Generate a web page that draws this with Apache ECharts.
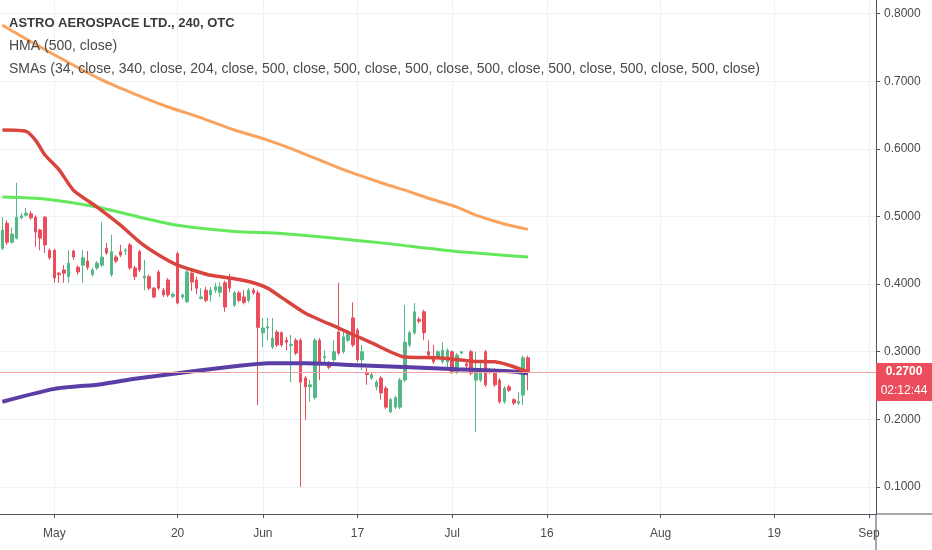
<!DOCTYPE html>
<html>
<head>
<meta charset="utf-8">
<title>ASTRO AEROSPACE LTD., 240, OTC</title>
<script src="https://cdn.jsdelivr.net/npm/echarts@6.0.0/dist/echarts.min.js"></script>
<style>
  html, body { margin: 0; padding: 0; background: #ffffff; }
  #main { width: 932px; height: 550px; }
</style>
</head>
<body>
<div id="main"></div>
<script>
// trading calendar (2 sessions of 240 min per day, weekends + holidays skipped)
var firstDay = '2019-04-23';
var lastDay = '2019-09-03';
var holidays = ['2019-05-27', '2019-07-04', '2019-09-02'];
var sessionTimes = ['09:30', '13:30'];
var dayTicks = {
  '2019-05-01': 'May', '2019-05-20': '20', '2019-06-03': 'Jun', '2019-06-17': '17',
  '2019-07-01': 'Jul', '2019-07-16': '16', '2019-08-01': 'Aug', '2019-08-19': '19',
  '2019-09-03': 'Sep'
};
var priceTicks = [0.1, 0.2, 0.3, 0.4, 0.5, 0.6, 0.7, 0.8];
var priceMin = 0.0599;
var priceMax = 0.8203;
var lastPrice = 0.27;
var countdown = '02:12:44';

// candles: [open, close, low, high]
var candles = [
  [0.453, 0.480, 0.450, 0.499], [0.490, 0.462, 0.458, 0.494], [0.462, 0.474, 0.460, 0.484],
  [0.468, 0.499, 0.466, 0.550], [0.498, 0.501, 0.496, 0.505], [0.502, 0.505, 0.500, 0.513],
  [0.504, 0.498, 0.495, 0.508], [0.499, 0.477, 0.455, 0.502], [0.480, 0.468, 0.450, 0.482],
  [0.499, 0.458, 0.446, 0.501], [0.450, 0.439, 0.436, 0.453], [0.450, 0.409, 0.402, 0.452],
  [0.416, 0.414, 0.402, 0.418], [0.421, 0.416, 0.402, 0.428], [0.411, 0.431, 0.402, 0.450],
  [0.449, 0.440, 0.436, 0.451], [0.425, 0.418, 0.414, 0.428], [0.428, 0.439, 0.402, 0.450],
  [0.434, 0.425, 0.421, 0.449], [0.414, 0.421, 0.411, 0.424], [0.424, 0.431, 0.421, 0.434],
  [0.428, 0.440, 0.425, 0.492], [0.453, 0.446, 0.443, 0.461], [0.414, 0.448, 0.411, 0.473],
  [0.440, 0.434, 0.431, 0.443], [0.448, 0.443, 0.440, 0.458], [0.449, 0.450, 0.443, 0.453],
  [0.458, 0.424, 0.421, 0.461], [0.424, 0.411, 0.406, 0.427], [0.448, 0.421, 0.418, 0.451],
  [0.409, 0.412, 0.391, 0.436], [0.411, 0.394, 0.391, 0.414], [0.394, 0.381, 0.379, 0.396],
  [0.418, 0.394, 0.391, 0.421], [0.391, 0.384, 0.381, 0.394], [0.406, 0.384, 0.381, 0.409],
  [0.382, 0.385, 0.379, 0.388], [0.445, 0.372, 0.370, 0.448], [0.381, 0.384, 0.378, 0.386],
  [0.374, 0.418, 0.372, 0.421], [0.416, 0.403, 0.390, 0.421], [0.406, 0.394, 0.385, 0.411],
  [0.379, 0.381, 0.377, 0.394], [0.391, 0.376, 0.373, 0.396], [0.384, 0.391, 0.374, 0.396],
  [0.391, 0.396, 0.387, 0.402], [0.388, 0.396, 0.381, 0.403], [0.402, 0.366, 0.359, 0.405],
  [0.410, 0.394, 0.388, 0.415], [0.369, 0.387, 0.366, 0.390], [0.387, 0.376, 0.373, 0.390],
  [0.381, 0.373, 0.370, 0.391], [0.376, 0.391, 0.373, 0.394], [0.391, 0.387, 0.384, 0.394],
  [0.387, 0.336, 0.221, 0.391], [0.328, 0.335, 0.307, 0.350], [0.335, 0.337, 0.317, 0.350],
  [0.307, 0.320, 0.304, 0.350], [0.329, 0.310, 0.307, 0.332], [0.328, 0.310, 0.307, 0.330],
  [0.317, 0.314, 0.302, 0.322], [0.309, 0.311, 0.255, 0.325], [0.317, 0.298, 0.295, 0.320],
  [0.317, 0.255, 0.100, 0.320], [0.261, 0.248, 0.199, 0.264], [0.248, 0.251, 0.226, 0.258],
  [0.232, 0.317, 0.229, 0.320], [0.317, 0.285, 0.258, 0.320], [0.291, 0.293, 0.285, 0.302],
  [0.283, 0.277, 0.274, 0.286], [0.288, 0.300, 0.285, 0.317], [0.329, 0.298, 0.295, 0.402],
  [0.300, 0.322, 0.297, 0.332], [0.317, 0.329, 0.314, 0.332], [0.350, 0.310, 0.307, 0.373],
  [0.332, 0.288, 0.285, 0.335], [0.288, 0.300, 0.273, 0.310], [0.268, 0.266, 0.251, 0.276],
  [0.261, 0.266, 0.258, 0.270], [0.248, 0.255, 0.243, 0.258], [0.261, 0.239, 0.229, 0.264],
  [0.246, 0.218, 0.215, 0.249], [0.211, 0.229, 0.209, 0.232], [0.218, 0.232, 0.215, 0.235],
  [0.218, 0.258, 0.215, 0.261], [0.258, 0.314, 0.255, 0.369], [0.310, 0.328, 0.307, 0.331],
  [0.328, 0.359, 0.325, 0.372], [0.348, 0.345, 0.342, 0.351], [0.359, 0.328, 0.317, 0.362],
  [0.300, 0.295, 0.292, 0.317], [0.291, 0.285, 0.282, 0.310], [0.292, 0.300, 0.289, 0.302],
  [0.285, 0.302, 0.282, 0.314], [0.285, 0.302, 0.276, 0.305], [0.300, 0.270, 0.267, 0.302],
  [0.270, 0.295, 0.267, 0.298], [0.298, 0.300, 0.296, 0.300], [0.282, 0.279, 0.276, 0.285],
  [0.300, 0.268, 0.265, 0.303], [0.258, 0.270, 0.181, 0.300], [0.258, 0.270, 0.255, 0.285],
  [0.300, 0.251, 0.248, 0.303], [0.273, 0.270, 0.267, 0.276], [0.273, 0.251, 0.248, 0.276],
  [0.258, 0.226, 0.223, 0.261], [0.226, 0.246, 0.223, 0.249], [0.248, 0.243, 0.240, 0.251],
  [0.229, 0.224, 0.221, 0.231], [0.224, 0.226, 0.221, 0.240], [0.236, 0.291, 0.221, 0.294],
  [0.291, 0.270, 0.243, 0.294]
];

// moving averages: [bar index, value]
var smaOrange = [[0, 0.783], [10, 0.743], [21, 0.702], [28, 0.681], [35, 0.662], [42, 0.646],
  [49, 0.628], [56, 0.613], [63, 0.595], [71, 0.572], [80, 0.550], [85, 0.539], [90, 0.527],
  [96, 0.514], [100, 0.502], [106, 0.489], [111, 0.481]];
var smaGreen = [[0, 0.529], [9, 0.526], [20, 0.514], [29, 0.499], [37, 0.487], [49, 0.478],
  [59, 0.475], [80, 0.461], [95, 0.449], [111, 0.440]];
var smaRed = [[0, 0.628], [5, 0.626], [7, 0.613], [9, 0.591], [12, 0.569], [15, 0.539],
  [20, 0.514], [25, 0.487], [29, 0.462], [33, 0.443], [37, 0.428], [41, 0.419], [44, 0.413],
  [49, 0.408], [53, 0.402], [56, 0.394], [59, 0.380], [64, 0.357], [71, 0.335], [78, 0.313],
  [85, 0.292], [92, 0.291], [99, 0.286], [104, 0.285], [107, 0.280], [111, 0.270]];
var hmaPurple = [[0, 0.226], [11, 0.245], [21, 0.252], [28, 0.260], [37, 0.268], [46, 0.276],
  [54, 0.282], [56, 0.283], [64, 0.283], [75, 0.280], [86, 0.277], [96, 0.274], [107, 0.271],
  [111, 0.268]];

// build session categories
var sessions = [];
var d = new Date(firstDay + 'T00:00:00Z');
var end = new Date(lastDay + 'T00:00:00Z');
while (d <= end) {
  var key = d.toISOString().slice(0, 10);
  var wd = d.getUTCDay();
  if (wd !== 0 && wd !== 6 && holidays.indexOf(key) < 0) {
    for (var s = 0; s < sessionTimes.length; s++) sessions.push(key + ' ' + sessionTimes[s]);
  }
  d = new Date(d.getTime() + 86400000);
}
sessions = sessions.slice(1); // chart opens on the afternoon bar of the first day

function isTick(index, value) {
  return value.slice(11) === sessionTimes[0] && dayTicks[value.slice(0, 10)] !== undefined;
}

var FONT = '"Liberation Sans", Arial, sans-serif';
var W = 932, H = 550, GRID_RIGHT = 56, GRID_BOTTOM = 36;
var axisColor = '#50535e';
var gridColor = '#eef1f6';
var upColor = '#53b987';
var downColor = '#eb4d5c';

var myChart = echarts.init(document.getElementById('main'));

var option = {
  animation: false,
  backgroundColor: '#ffffff',
  textStyle: { fontFamily: FONT },
  title: [
    { text: 'ASTRO AEROSPACE LTD., 240, OTC', left: 9, top: 15, padding: 0,
      textStyle: { fontFamily: FONT, fontSize: 13, fontWeight: 'bold', color: '#3a3a3a', lineHeight: 16 } },
    { text: 'HMA (500, close)', left: 9, top: 38, padding: 0,
      textStyle: { fontFamily: FONT, fontSize: 14, fontWeight: 'normal', color: '#4a4a4a', lineHeight: 16 } },
    { text: 'SMAs (34, close, 340, close, 204, close, 500, close, 500, close, 500, close, 500, close, 500, close, 500, close, 500, close)',
      left: 9, top: 61, padding: 0,
      textStyle: { fontFamily: FONT, fontSize: 14, fontWeight: 'normal', color: '#4a4a4a', lineHeight: 16 } }
  ],
  grid: { left: 0, right: GRID_RIGHT, top: 0, bottom: GRID_BOTTOM, containLabel: false },
  xAxis: {
    type: 'category',
    data: sessions,
    boundaryGap: true,
    axisLine: { show: true, lineStyle: { color: axisColor, width: 1 } },
    axisTick: { show: true, interval: isTick, alignWithLabel: true, length: 4, lineStyle: { color: axisColor } },
    axisLabel: {
      interval: isTick,
      formatter: function (v) { return dayTicks[v.slice(0, 10)] || ''; },
      color: '#4a4a4a', fontSize: 12, fontFamily: FONT, margin: 14
    },
    splitLine: { show: true, interval: isTick, alignWithLabel: true, lineStyle: { color: gridColor, width: 1 } }
  },
  yAxis: {
    type: 'value',
    position: 'right',
    min: priceMin,
    max: priceMax,
    scale: true,
    axisLine: { show: true, lineStyle: { color: axisColor, width: 1 } },
    axisTick: { show: true, length: 4, customValues: priceTicks, lineStyle: { color: axisColor } },
    axisLabel: {
      customValues: priceTicks,
      formatter: function (v) { return v.toFixed(4); },
      color: '#4a4a4a', fontSize: 12, fontFamily: FONT, margin: 8
    },
    splitLine: { show: true, lineStyle: { color: gridColor, width: 1 } }
  },
  series: [
    {
      name: 'ASTRO',
      type: 'candlestick',
      data: candles,
      barWidth: 3,
      itemStyle: {
        color: upColor, color0: downColor,
        borderColor: upColor, borderColor0: downColor, borderWidth: 1
      },
      markLine: {
        silent: true,
        symbol: 'none',
        lineStyle: { color: '#f3a0a7', width: 1, type: 'solid' },
        label: {
          show: true,
          position: 'end',
          distance: 0,
          formatter: '{e| }\n{a|' + lastPrice.toFixed(4) + '}\n{b|' + countdown + '}',
          rich: {
            e: { height: 20, fontSize: 1 },
            a: { backgroundColor: downColor, color: '#ffffff', width: 56, height: 18, align: 'center',
                 fontSize: 12, fontWeight: 'bold', fontFamily: FONT },
            b: { backgroundColor: downColor, color: '#ffffff', width: 56, height: 20, align: 'center',
                 fontSize: 12, fontFamily: FONT }
          }
        },
        data: [{ yAxis: lastPrice }]
      }
    },
    {
      name: 'HMA (500, close)', type: 'line', data: hmaPurple, showSymbol: false,
      smooth: 0.2, lineStyle: { color: '#5a3ea5', width: 4 }, z: 3
    },
    {
      name: 'SMA orange', type: 'line', data: smaOrange, showSymbol: false,
      smooth: 0.2, lineStyle: { color: '#f9a35e', width: 3 }, z: 3
    },
    {
      name: 'SMA green', type: 'line', data: smaGreen, showSymbol: false,
      smooth: 0.2, lineStyle: { color: '#62e85a', width: 3 }, z: 3
    },
    {
      name: 'SMA red', type: 'line', data: smaRed, showSymbol: false,
      smooth: 0.2, lineStyle: { color: '#d9443f', width: 3.5 }, z: 3
    }
  ],
  graphic: [
    // axis lines run on into the price-scale corner
    { type: 'line', silent: true, shape: { x1: W - GRID_RIGHT, y1: H - GRID_BOTTOM, x2: W, y2: H - GRID_BOTTOM },
      style: { stroke: axisColor, lineWidth: 1 } },
    { type: 'line', silent: true, shape: { x1: W - GRID_RIGHT, y1: H - GRID_BOTTOM, x2: W - GRID_RIGHT, y2: H },
      style: { stroke: axisColor, lineWidth: 1 } }
  ]
};

myChart.setOption(option);
</script>
</body>
</html>
